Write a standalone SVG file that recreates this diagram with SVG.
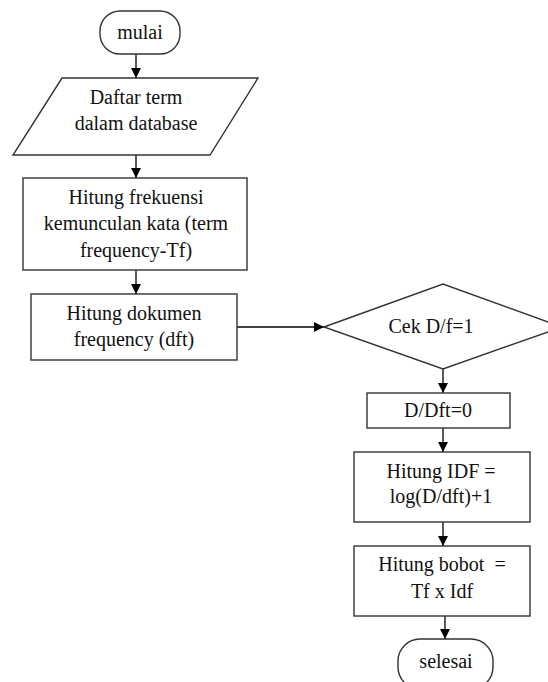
<svg xmlns="http://www.w3.org/2000/svg" width="548" height="682" viewBox="0 0 548 682">
<defs>
<marker id="ah" viewBox="0 0 10 10" refX="10" refY="5" markerWidth="10" markerHeight="10" markerUnits="userSpaceOnUse" orient="auto">
<path d="M0,0 L10,5 L0,10 z" fill="#000"/>
</marker>
<style>
.s{fill:#fff;stroke:#333;stroke-width:1.4}
.t{font-family:'Liberation Serif','DejaVu Serif',serif;font-size:20px;fill:#111;text-anchor:middle}
.c{stroke:#000;stroke-width:1.3;fill:none;marker-end:url(#ah)}
</style>
</defs>
<rect width="548" height="682" fill="#fff"/>
<g id="connectors">
<line class="c" x1="136" y1="54" x2="136" y2="78"/>
<line class="c" x1="136" y1="155" x2="136" y2="178"/>
<line class="c" x1="136" y1="270" x2="136" y2="294"/>
<line class="c" x1="237" y1="327" x2="324" y2="327"/>
<line class="c" x1="443" y1="369" x2="443" y2="393"/>
<line class="c" x1="443" y1="428" x2="443" y2="452"/>
<line class="c" x1="443" y1="522" x2="443" y2="546"/>
<line class="c" x1="445" y1="616" x2="445" y2="639"/>
</g>
<g id="mulai">
<rect class="s" x="100" y="11" width="80" height="43" rx="20"/>
<text class="t" x="140" y="39" font-family="Liberation Serif, serif">mulai</text>
</g>
<g id="daftar">
<polygon class="s" points="62,78 258,78 210,155 13,155"/>
<text class="t" x="136" y="104" font-family="Liberation Serif, serif">Daftar term</text>
<text class="t" x="136" y="130" font-family="Liberation Serif, serif">dalam database</text>
</g>
<g id="tf">
<rect class="s" x="23" y="178" width="224" height="92"/>
<text class="t" x="136" y="204" font-family="Liberation Serif, serif">Hitung frekuensi</text>
<text class="t" x="136" y="230" font-family="Liberation Serif, serif">kemunculan kata (term</text>
<text class="t" x="136" y="257" font-family="Liberation Serif, serif">frequency-Tf)</text>
</g>
<g id="dft">
<rect class="s" x="31" y="294" width="206" height="66"/>
<text class="t" x="134" y="320" font-family="Liberation Serif, serif">Hitung dokumen</text>
<text class="t" x="134" y="346" font-family="Liberation Serif, serif">frequency (dft)</text>
</g>
<g id="cek">
<polygon class="s" points="324,327 443,284 562,327 443,369"/>
<text class="t" x="431" y="333" font-family="Liberation Serif, serif">Cek D/f=1</text>
</g>
<g id="d0">
<rect class="s" x="367" y="393" width="143" height="35"/>
<text class="t" x="438" y="417" font-family="Liberation Serif, serif">D/Dft=0</text>
</g>
<g id="idf">
<rect class="s" x="354" y="452" width="176" height="70"/>
<text class="t" x="441" y="478" font-family="Liberation Serif, serif">Hitung IDF =</text>
<text class="t" x="441" y="503" font-family="Liberation Serif, serif">log(D/dft)+1</text>
</g>
<g id="bobot">
<rect class="s" x="354" y="546" width="176" height="70"/>
<text class="t" x="442" y="571" font-family="Liberation Serif, serif" xml:space="preserve">Hitung bobot  =</text>
<text class="t" x="442" y="598" font-family="Liberation Serif, serif">Tf x Idf</text>
</g>
<g id="selesai">
<rect class="s" x="398" y="639" width="95" height="50" rx="22"/>
<text class="t" x="446" y="668" font-family="Liberation Serif, serif">selesai</text>
</g>
</svg>
